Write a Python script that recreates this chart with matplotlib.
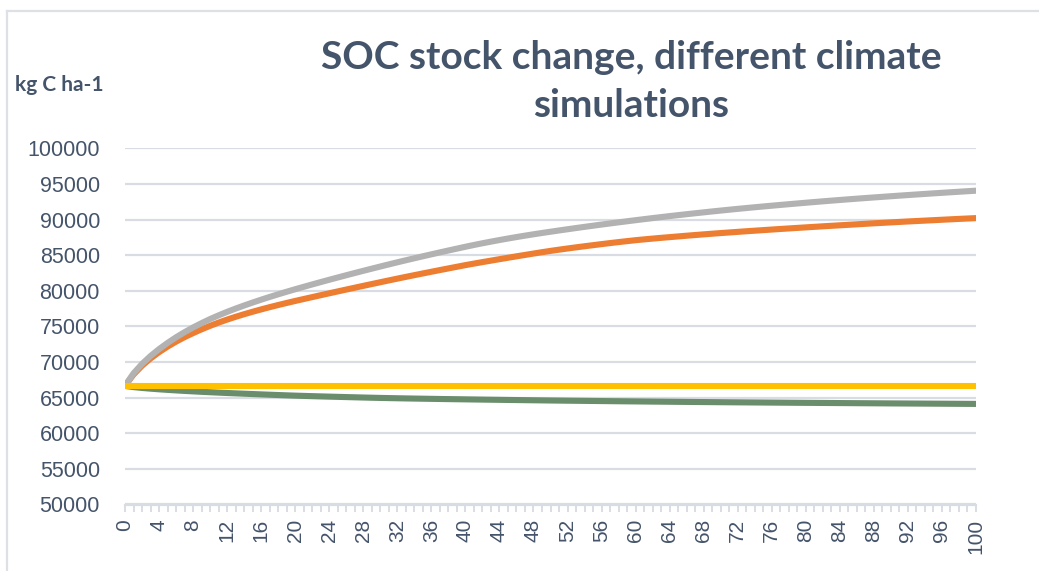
import matplotlib
matplotlib.use("Agg")
import matplotlib.pyplot as plt
from matplotlib.lines import Line2D

years = list(range(0, 101))

soc_gray = [
    66650, 68400, 69730, 70840, 71810, 72680, 73470, 74190, 74850, 75460, 76030,
    76550, 77040, 77500, 77935, 78350, 78750, 79135, 79505, 79865, 80215,
    80555, 80890, 81220, 81545, 81865, 82181, 82493, 82801, 83105, 83405,
    83703, 83995, 84282, 84564, 84842, 85116, 85386, 85653, 85917, 86178,
    86428, 86668, 86898, 87120, 87334, 87540, 87738, 87928, 88112, 88290,
    88465, 88637, 88806, 88972, 89135, 89295, 89452, 89606, 89758, 89908,
    90056, 90201, 90343, 90482, 90618, 90751, 90881, 91009, 91135, 91259,
    91380, 91498, 91613, 91725, 91835, 91943, 92049, 92153, 92256, 92358,
    92458, 92556, 92652, 92746, 92838, 92928, 93016, 93102, 93187, 93271,
    93355, 93437, 93517, 93596, 93674, 93751, 93827, 93902, 93976, 94050,
]

soc_orange = [
    66650, 68250, 69480, 70500, 71380, 72160, 72860, 73490, 74060, 74590, 75080,
    75535, 75955, 76345, 76710, 77055, 77385, 77700, 78000, 78290, 78570,
    78842, 79112, 79380, 79646, 79910, 80172, 80432, 80690, 80946, 81200,
    81454, 81704, 81950, 82193, 82433, 82670, 82905, 83138, 83370, 83600,
    83815, 84025, 84230, 84435, 84635, 84835, 85030, 85225, 85415, 85600,
    85770, 85935, 86095, 86250, 86400, 86550, 86695, 86835, 86970, 87100,
    87215, 87325, 87430, 87530, 87630, 87730, 87825, 87920, 88010, 88100,
    88185, 88270, 88355, 88435, 88515, 88595, 88675, 88750, 88825, 88900,
    88975, 89050, 89120, 89190, 89260, 89330, 89400, 89470, 89535, 89600,
    89665, 89730, 89790, 89850, 89910, 89970, 90030, 90090, 90145, 90200,
]

soc_green = [
    66650, 66480, 66360, 66260, 66170, 66090, 66015, 65945, 65880, 65818, 65760,
    65705, 65652, 65601, 65552, 65504, 65457, 65411, 65366, 65322, 65280,
    65244, 65209, 65175, 65142, 65110, 65078, 65047, 65017, 64988, 64960,
    64936, 64913, 64891, 64870, 64850, 64831, 64812, 64794, 64777, 64760,
    64743, 64726, 64710, 64694, 64678, 64662, 64646, 64631, 64615, 64600,
    64586, 64572, 64559, 64546, 64533, 64520, 64507, 64494, 64482, 64470,
    64458, 64446, 64435, 64424, 64413, 64402, 64391, 64380, 64370, 64360,
    64350, 64341, 64332, 64323, 64314, 64305, 64296, 64287, 64278, 64270,
    64262, 64254, 64246, 64238, 64230, 64222, 64214, 64206, 64198, 64190,
    64183, 64176, 64169, 64162, 64155, 64148, 64141, 64134, 64127, 64120,
]

soc_yellow = [66650] * 101

y_ticks = list(range(50000, 100001, 5000))
x_tick_labels = list(range(0, 101, 4))

title = "SOC stock change, different climate\nsimulations"
y_label = "kg C ha-1"

text_color = "#44546a"
grid_color = "#d9dde3"

W, H = 1039, 571
fig = plt.figure(figsize=(W / 100, H / 100), dpi=100)
fig.patch.set_facecolor("white")

left, right = 125 / W, 976 / W
bottom, top = 1 - 504.5 / H, 1 - 148.3 / H
ax = fig.add_axes([left, bottom, right - left, top - bottom])

ax.plot(years, soc_orange, color="#ed7d31", lw=4.4, solid_capstyle="round", zorder=3)
ax.plot(years, soc_gray, color="#b2b2b2", lw=4.4, solid_capstyle="round", zorder=4)
ax.plot(years, soc_green, color="#6a8d6c", lw=4.4, solid_capstyle="round", zorder=5)
ax.plot(years, soc_yellow, color="#ffc000", lw=4.4, solid_capstyle="round", zorder=6)

ax.set_xlim(0, 100)
ax.set_ylim(50000, 100000)
ax.set_yticks(y_ticks)
ax.set_yticklabels([str(v) for v in y_ticks])
ax.yaxis.grid(True, color=grid_color, lw=1.6)
ax.set_axisbelow(True)
for s in ["top", "right", "left"]:
    ax.spines[s].set_visible(False)
ax.spines["bottom"].set_color(grid_color)
ax.spines["bottom"].set_linewidth(1.6)
ax.spines["bottom"].set_zorder(1)

ax.set_xticks(years, minor=True)
ax.set_xticks(x_tick_labels)
ax.set_xticklabels([str(v) for v in x_tick_labels], rotation=90)
ax.tick_params(axis="x", which="both", direction="out", length=5, width=1.4,
               color=grid_color, labelsize=15, labelcolor=text_color, pad=5.5)
ax.tick_params(axis="y", length=0, labelsize=15.5, labelcolor=text_color, pad=18)
for lab in ax.get_xticklabels() + ax.get_yticklabels():
    lab.set_fontfamily("Liberation Sans")

fig.text(631 / W, 1 - 81.5 / H, title, ha="center", va="center", fontsize=28,
         fontweight="bold", color=text_color, family="Lato", linespacing=1.47)
fig.text(15 / W, 1 - 85 / H, y_label, ha="left", va="center", fontsize=15,
         fontweight="bold", color=text_color, family="Lato")

# chart border (top and left edges visible)
fig.add_artist(Line2D([7 / W, 1.0], [1 - 11 / H, 1 - 11 / H], transform=fig.transFigure,
                      color="#dde1e6", lw=1.6))
fig.add_artist(Line2D([7 / W, 7 / W], [0, 1 - 11 / H], transform=fig.transFigure,
                      color="#dde1e6", lw=1.6))

fig.savefig("out.png", dpi=100, facecolor="white")
